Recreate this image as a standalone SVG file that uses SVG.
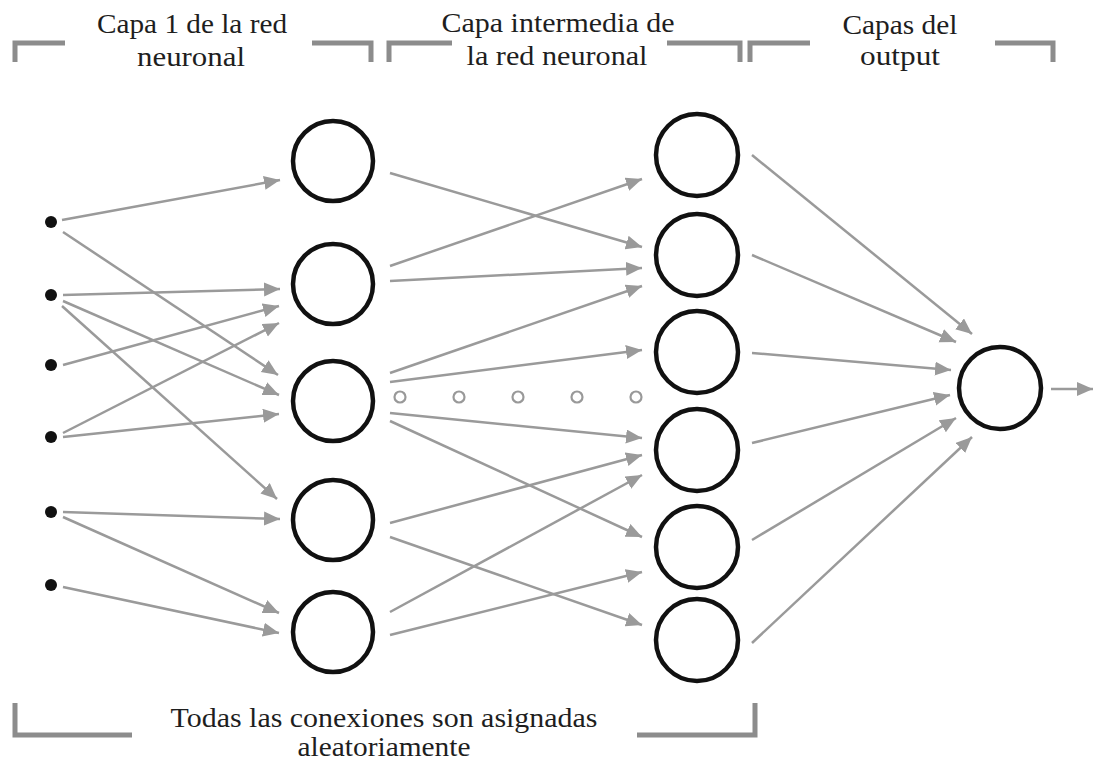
<svg xmlns="http://www.w3.org/2000/svg" width="1093" height="760" viewBox="0 0 1093 760">
  <style>
    .lbl { font-family: "Liberation Serif", "Times New Roman", serif; font-size: 27px; fill: #1e1e1e; text-anchor: middle; }
    .bkt { fill: none; stroke: #8c8c8c; stroke-width: 5; }
    .neuron { fill: #fff; stroke: #111; stroke-width: 4.5; }
    .input { fill: #111; }
    .gap { fill: #fff; stroke: #999; stroke-width: 2.2; }
    .edge { stroke: #9a9a9a; stroke-width: 2.5; fill: none; marker-end: url(#arr); }
  </style>
  <defs>
    <marker id="arr" markerUnits="userSpaceOnUse" markerWidth="17" markerHeight="15" refX="16" refY="7" orient="auto">
      <path d="M0,0 L16,7 L0,14 Z" fill="#9a9a9a"/>
    </marker>
  </defs>
  <rect width="1093" height="760" fill="#fff"/>

  <!-- section brackets and headings -->
  <g id="brackets">
    <path class="bkt" d="M15,62 V43 H65"/>
    <path class="bkt" d="M312,43 H371 V62"/>
    <path class="bkt" d="M389,62 V43 H452"/>
    <path class="bkt" d="M667,43 H740 V62"/>
    <path class="bkt" d="M750,62 V43 H810"/>
    <path class="bkt" d="M995,43 H1053 V62"/>
    <path class="bkt" d="M15,703 V735 H132"/>
    <path class="bkt" d="M637,735 H755 V703"/>
  </g>
  <g id="labels">
    <text class="lbl" x="192" y="33" textLength="190" lengthAdjust="spacingAndGlyphs">Capa 1 de la red</text>
    <text class="lbl" x="191" y="66" textLength="108" lengthAdjust="spacingAndGlyphs">neuronal</text>
    <text class="lbl" x="558" y="32" textLength="233" lengthAdjust="spacingAndGlyphs">Capa intermedia de</text>
    <text class="lbl" x="557" y="65" textLength="181" lengthAdjust="spacingAndGlyphs">la red neuronal</text>
    <text class="lbl" x="900" y="34" textLength="115" lengthAdjust="spacingAndGlyphs">Capas del</text>
    <text class="lbl" x="900" y="65" textLength="80" lengthAdjust="spacingAndGlyphs">output</text>
    <text class="lbl" x="384" y="727" textLength="427" lengthAdjust="spacingAndGlyphs">Todas las conexiones son asignadas</text>
    <text class="lbl" x="384" y="756" textLength="173" lengthAdjust="spacingAndGlyphs">aleatoriamente</text>
  </g>

  <!-- connectors -->
  <g id="connectors">
    <!-- inputs to first layer -->
    <line class="edge" x1="62" y1="220" x2="280" y2="180"/>
    <line class="edge" x1="63" y1="232" x2="278" y2="375"/>
    <line class="edge" x1="63" y1="295" x2="280" y2="289"/>
    <line class="edge" x1="63" y1="301" x2="279" y2="395"/>
    <line class="edge" x1="62" y1="306" x2="277" y2="499"/>
    <line class="edge" x1="63" y1="365" x2="279" y2="306"/>
    <line class="edge" x1="63" y1="433" x2="279" y2="323"/>
    <line class="edge" x1="63" y1="437" x2="279" y2="414"/>
    <line class="edge" x1="63" y1="512" x2="280" y2="519"/>
    <line class="edge" x1="63" y1="517" x2="279" y2="613"/>
    <line class="edge" x1="63" y1="587" x2="279" y2="633"/>
    <!-- first layer to hidden layer -->
    <line class="edge" x1="390" y1="173" x2="642" y2="247"/>
    <line class="edge" x1="390" y1="266" x2="642" y2="179"/>
    <line class="edge" x1="390" y1="281" x2="642" y2="268"/>
    <line class="edge" x1="390" y1="373" x2="642" y2="286"/>
    <line class="edge" x1="390" y1="382" x2="642" y2="350"/>
    <line class="edge" x1="390" y1="413" x2="642" y2="438"/>
    <line class="edge" x1="390" y1="421" x2="642" y2="537"/>
    <line class="edge" x1="390" y1="523" x2="642" y2="455"/>
    <line class="edge" x1="390" y1="537" x2="642" y2="625"/>
    <line class="edge" x1="390" y1="612" x2="642" y2="475"/>
    <line class="edge" x1="390" y1="635" x2="642" y2="572"/>
    <!-- hidden layer to output -->
    <line class="edge" x1="752" y1="155" x2="972" y2="334"/>
    <line class="edge" x1="752" y1="255" x2="956" y2="342"/>
    <line class="edge" x1="752" y1="353" x2="951" y2="370"/>
    <line class="edge" x1="752" y1="443" x2="950" y2="395"/>
    <line class="edge" x1="752" y1="540" x2="956" y2="418"/>
    <line class="edge" x1="752" y1="643" x2="972" y2="437"/>
    <!-- result -->
    <line class="edge" x1="1051" y1="389" x2="1093" y2="389"/>
  </g>

  <!-- input points -->
  <g id="inputs">
    <circle class="input" cx="51" cy="222" r="6"/>
    <circle class="input" cx="51" cy="295" r="6"/>
    <circle class="input" cx="51" cy="365" r="6"/>
    <circle class="input" cx="51" cy="437" r="6"/>
    <circle class="input" cx="51" cy="512" r="6"/>
    <circle class="input" cx="51" cy="585" r="6"/>
  </g>

  <!-- first layer -->
  <g id="layer1-n1"><circle class="neuron" cx="333" cy="161" r="40"/></g>
  <g id="layer1-n2"><circle class="neuron" cx="333" cy="284" r="40"/></g>
  <g id="layer1-n3"><circle class="neuron" cx="333" cy="401" r="40"/></g>
  <g id="layer1-n4"><circle class="neuron" cx="333" cy="520" r="40"/></g>
  <g id="layer1-n5"><circle class="neuron" cx="333" cy="632" r="40"/></g>

  <!-- ellipsis of omitted layers -->
  <g id="omitted">
    <circle class="gap" cx="400" cy="397" r="5.5"/>
    <circle class="gap" cx="459" cy="397" r="5.5"/>
    <circle class="gap" cx="518" cy="397" r="5.5"/>
    <circle class="gap" cx="577" cy="397" r="5.5"/>
    <circle class="gap" cx="636" cy="397" r="5.5"/>
  </g>

  <!-- hidden layer -->
  <g id="hidden-n1"><circle class="neuron" cx="697" cy="155" r="41"/></g>
  <g id="hidden-n2"><circle class="neuron" cx="697" cy="255" r="41"/></g>
  <g id="hidden-n3"><circle class="neuron" cx="697" cy="352" r="41"/></g>
  <g id="hidden-n4"><circle class="neuron" cx="697" cy="450" r="41"/></g>
  <g id="hidden-n5"><circle class="neuron" cx="697" cy="547" r="41"/></g>
  <g id="hidden-n6"><circle class="neuron" cx="697" cy="640" r="41"/></g>

  <!-- output neuron -->
  <g id="output-n1"><circle class="neuron" cx="1000" cy="388" r="41"/></g>
</svg>
